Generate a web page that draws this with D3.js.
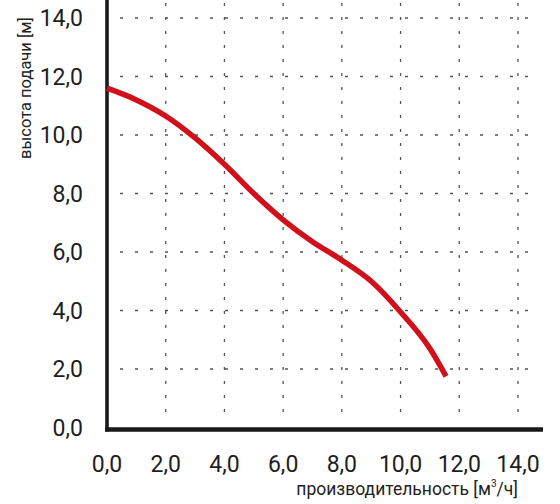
<!DOCTYPE html>
<html><head><meta charset="utf-8">
<script src="https://cdn.jsdelivr.net/npm/d3@7/dist/d3.min.js"></script>
<style>
html,body{margin:0;padding:0;background:#fff;}
svg{display:block;font-family:Roboto, "Noto Sans", sans-serif;}
</style></head>
<body><svg id="c" width="560" height="504"></svg>
<script>
const flow = [0, 1, 2, 3, 4, 5, 6, 7, 8, 9, 10, 11, 11.55];
const head = [11.6, 11.2, 10.65, 9.9, 9.0, 8.0, 7.1, 6.35, 5.72, 5.0, 3.95, 2.7, 1.75];
const xTicks = [0, 2, 4, 6, 8, 10, 12, 14];
const yTicks = [0, 2, 4, 6, 8, 10, 12, 14];
const xTickLabels = ["0,0", "2,0", "4,0", "6,0", "8,0", "10,0", "12,0", "14,0"];
const yTickLabels = ["0,0", "2,0", "4,0", "6,0", "8,0", "10,0", "12,0", "14,0"];
const xTitle = "производительность [м";
const xTitleSup = "3";
const xTitleEnd = "/ч]";
const yTitle = "высота подачи [м]";

const svg = d3.select("#c");
const x = d3.scaleLinear().domain([0, 14]).range([107, 518]);
const y = d3.scaleLinear().domain([0, 14]).range([427.5, 18]);

// grid
const grid = svg.append("g").attr("stroke", "#555").attr("stroke-width", 1.3);
grid.selectAll("line.h").data(yTicks.filter(d => d > 0)).join("line")
  .attr("x1", x(0) + 13).attr("x2", x(14) + 17)
  .attr("y1", d => y(d)).attr("y2", d => y(d))
  .attr("stroke-dasharray", "3,12");
grid.selectAll("line.v").data(xTicks.filter(d => d > 0)).join("line")
  .attr("x1", d => x(d)).attr("x2", d => x(d))
  .attr("y1", 3).attr("y2", y(0) - 13)
  .attr("stroke-dasharray", "3,11");

// axes lines
svg.append("line").attr("x1", x(0)).attr("x2", x(0)).attr("y1", 0).attr("y2", y(0) + 4)
  .attr("stroke", "#1a1a1a").attr("stroke-width", 3.6);
svg.append("line").attr("x1", x(0) - 2).attr("x2", 543).attr("y1", y(0) + 2).attr("y2", y(0) + 2)
  .attr("stroke", "#1a1a1a").attr("stroke-width", 4.5);

// tick labels
svg.selectAll("text.yt").data(yTicks).join("text").attr("class", "yt")
  .attr("x", 83).attr("y", d => y(d)).attr("dy", "0.36em")
  .attr("text-anchor", "end").attr("font-size", 23).attr("fill", "#1e1e1e")
  .text((d, i) => yTickLabels[i]);
svg.selectAll("text.xt").data(xTicks).join("text").attr("class", "xt")
  .attr("x", d => x(d)).attr("y", 472)
  .attr("text-anchor", "middle").attr("font-size", 23).attr("fill", "#1e1e1e")
  .text((d, i) => xTickLabels[i]);

// titles
const xt = svg.append("text").attr("x", 518).attr("y", 495).attr("text-anchor", "end")
  .attr("font-size", 17.5).attr("fill", "#222");
xt.append("tspan").text(xTitle);
xt.append("tspan").attr("dy", -8).attr("font-size", 10).text(xTitleSup);
xt.append("tspan").attr("dy", 8).text(xTitleEnd);

svg.append("text").attr("transform", "translate(31,88) rotate(-90)")
  .attr("text-anchor", "middle").attr("font-size", 16.5).attr("fill", "#222")
  .text(yTitle);

// curve
const pts = flow.map((f, i) => [f, head[i]]);
svg.append("path").datum(pts)
  .attr("d", d3.line().x(d => x(d[0])).y(d => y(d[1])).curve(d3.curveMonotoneX))
  .attr("fill", "none").attr("stroke", "#d0101a").attr("stroke-width", 5.5)
  .attr("stroke-linecap", "butt");
</script></body></html>
